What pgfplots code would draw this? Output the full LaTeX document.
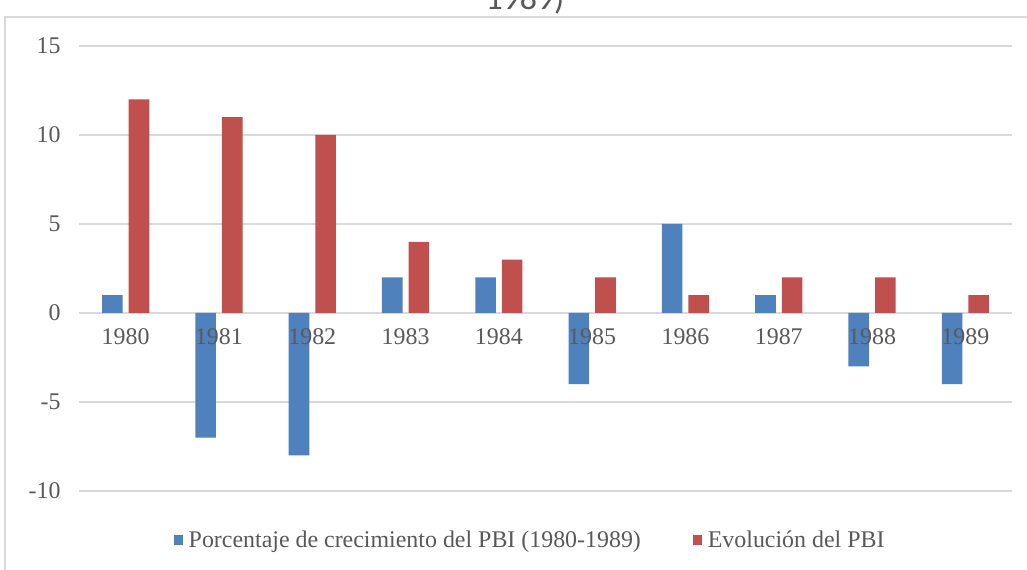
\documentclass[border=0pt]{standalone}
\usepackage{pgfplots}
\pgfplotsset{compat=1.18}
\usepackage{fontspec}
\setmainfont{Liberation Serif}
\newfontfamily\titlefont{Carlito}
\definecolor{cblue}{HTML}{4F81BD}
\definecolor{cred}{HTML}{C0504D}
\definecolor{cgrid}{HTML}{D9D9D9}
\definecolor{ctext}{HTML}{595959}
\pgfplotsset{
  base/.style={
    at={(79bp,79bp)}, anchor=south west,
    scale only axis, width=933bp, height=445bp,
    xmin=-0.5, xmax=9.5, ymin=-10, ymax=15,
    axis x line*=middle, axis y line*=left,
    hide obscured x ticks=false, hide obscured y ticks=false,
    y axis line style={draw=none},
    ytick={-10,-5,0,5,10,15},
    xtick={0,1,2,3,4,5,6,7,8,9},
    major tick length=0pt,
    tick style={draw=none},
    /pgf/number format/assume math mode=true,
    ticklabel style={font=\fontsize{24}{29}\selectfont, text=ctext},
    yticklabel style={xshift=-15bp},
    xticklabel style={yshift=-12bp},
  }
}
\begin{document}
\begin{tikzpicture}[x=1bp,y=1bp]
\useasboundingbox (0,0) rectangle (1027,570);
\clip (0,0) rectangle (1027,570);
\fill[white] (0,0) rectangle (1027,570);
\draw[cgrid,line width=1.2bp] (5,-5) -- (5,553) -- (1035,553);
\node[anchor=base,inner sep=0pt,font=\titlefont\fontsize{34}{40}\selectfont,text=ctext] at (525,560) {1989)};
\begin{axis}[
  base,
  x axis line style={cgrid, line width=1.2bp, -},
  xticklabels={},
  ymajorgrids, grid style={cgrid, line width=1.2bp},
  legend columns=2,
  legend style={at={(0.4835,-0.11)}, anchor=center, draw=none, fill=none,
    font=\fontsize{24}{29}\selectfont, text=ctext,
    /tikz/every odd column/.append style={column sep=4bp},
    /tikz/every even column/.append style={column sep=50bp}},
  legend image code/.code={\path[#1] (0bp,-5bp) rectangle (9bp,5bp);},
]
\addplot[ybar, bar width=20.6bp, bar shift=-13.3bp, fill=cblue, draw=none]
  coordinates {(0,1) (1,-7) (2,-8) (3,2) (4,2) (5,-4) (6,5) (7,1) (8,-3) (9,-4)};
\addlegendentry{Porcentaje de crecimiento del PBI (1980-1989)}
\addplot[ybar, bar width=20.6bp, bar shift=13.3bp, fill=cred, draw=none]
  coordinates {(0,12) (1,11) (2,10) (3,4) (4,3) (5,2) (6,1) (7,2) (8,2) (9,1)};
\addlegendentry{Evolución del PBI}
\end{axis}
\begin{axis}[
  base,
  x axis line style={draw=none},
  yticklabels={},
  xticklabels={1980,1981,1982,1983,1984,1985,1986,1987,1988,1989},
]
\end{axis}
\end{tikzpicture}
\end{document}
